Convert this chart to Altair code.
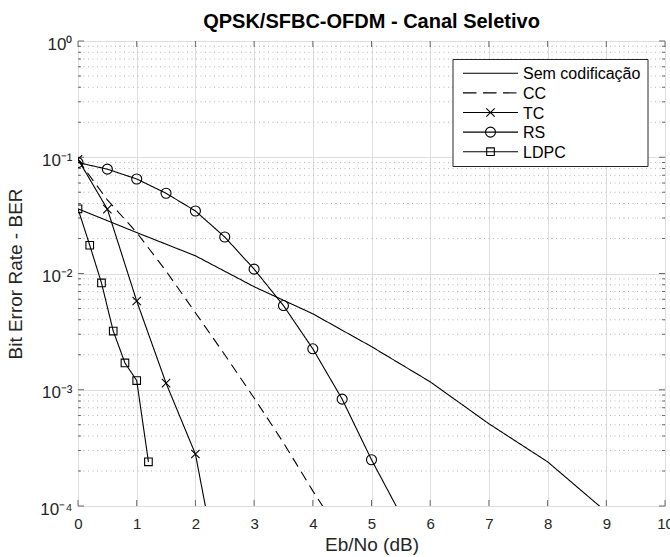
import altair as alt
import pandas as pd

# Eb/No (dB) and simulated BER for each scheme
snr_uncoded = [0, 1, 2, 3, 4, 5, 6, 7, 8, 9]
ber_uncoded = [3.6e-2, 2.25e-2, 1.42e-2, 7.7e-3, 4.5e-3, 2.35e-3, 1.17e-3, 5.1e-4, 2.4e-4, 8.9e-5]

snr_cc = [0, 0.5, 1, 1.5, 2, 2.5, 3, 3.5, 4, 4.5]
ber_cc = [9.5e-2, 4.3e-2, 2.25e-2, 1.05e-2, 4.6e-3, 2.0e-3, 8.5e-4, 3.5e-4, 1.35e-4, 5.5e-5]

snr_tc = [0, 0.5, 1, 1.5, 2, 2.5]
ber_tc = [9.6e-2, 3.58e-2, 5.8e-3, 1.14e-3, 2.8e-4, 1.35e-5]

snr_rs = [0, 0.5, 1, 1.5, 2, 2.5, 3, 3.5, 4, 4.5, 5, 5.5]
ber_rs = [9.0e-2, 7.9e-2, 6.5e-2, 4.9e-2, 3.45e-2, 2.06e-2, 1.09e-2, 5.3e-3, 2.25e-3, 8.3e-4, 2.5e-4, 8.4e-5]

snr_ldpc = [0, 0.2, 0.4, 0.6, 0.8, 1.0, 1.2]
ber_ldpc = [3.6e-2, 1.75e-2, 8.3e-3, 3.2e-3, 1.7e-3, 1.2e-3, 2.4e-4]

series_names = ["Sem codificação", "CC", "TC", "RS", "LDPC"]
title_text = "QPSK/SFBC-OFDM - Canal Seletivo"

# axis ticks
x_ticks = list(range(11))
y_major = [1e-4, 1e-3, 1e-2, 1e-1, 1.0]
y_minor = [m * 10.0 ** e for e in range(-4, 0) for m in range(2, 10)]

rows = []
for name, xs, ys in [
    ("Sem codificação", snr_uncoded, ber_uncoded),
    ("CC", snr_cc, ber_cc),
    ("TC", snr_tc, ber_tc),
    ("RS", snr_rs, ber_rs),
    ("LDPC", snr_ldpc, ber_ldpc),
]:
    for xv, yv in zip(xs, ys):
        rows.append({"series": name, "ebno": xv, "ber": yv})
df = pd.DataFrame(rows)

W, H = 587, 465
FONT = "Liberation Sans"
INK = "#262626"
BOX = "#6a6a6a"

x_scale = alt.Scale(domain=[0, 10], nice=False, zero=False)
y_scale = alt.Scale(type="log", domain=[1e-4, 1], nice=False)

x_axis = alt.Axis(
    values=x_ticks, tickSize=0, domain=False, grid=True, gridColor="#dedede",
    gridWidth=1, labelFont=FONT, labelFontSize=15, labelColor=INK, labelPadding=10,
    labelFlush=False, labelOverlap=False, title="Eb/No (dB)", titleFont=FONT,
    titleFontSize=19, titleFontWeight="normal", titleColor=INK, titleY=44,
    titleBaseline="alphabetic",
)
y_label_expr = (
    "datum.value >= 0.5 ? '10⁰' : datum.value >= 0.05 ? '10⁻¹' : "
    "datum.value >= 0.005 ? '10⁻²' : datum.value >= 0.0005 ? '10⁻³' : '10⁻⁴'"
)
y_axis = alt.Axis(
    values=y_major, labelExpr=y_label_expr, tickSize=0, domain=False, grid=True,
    gridColor="#dedede", gridWidth=1, labelFont=FONT, labelFontSize=17,
    labelColor=INK, labelPadding=6, labelOffset=3, title="Bit Error Rate - BER",
    titleFont=FONT, titleFontSize=19, titleFontWeight="normal", titleColor=INK,
    titleX=-57, titleY=H / 2, titleBaseline="alphabetic", titleAlign="center",
    titleAngle=270,
)


def X(field):
    return alt.X(field, type="quantitative", scale=x_scale, axis=x_axis)


def Y(field):
    return alt.Y(field, type="quantitative", scale=y_scale, axis=y_axis)


minor_df = pd.DataFrame({"v": y_minor})
major_df = pd.DataFrame({"v": y_major})
xt_df = pd.DataFrame({"v": x_ticks})

# dotted minor grid on the log axis
minor_grid = alt.Chart(minor_df).mark_rule(
    stroke="#b4b4b4", strokeWidth=1, strokeDash=[1, 3.5]
).encode(y=Y("v"))

# curves
dash_styles = [[1, 0], [10, 6], [1, 0], [1, 0], [1, 0]]
lines = alt.Chart(df).mark_line(clip=True, color="black", strokeWidth=1.1).encode(
    x=X("ebno"),
    y=Y("ber"),
    detail="series:N",
    strokeDash=alt.StrokeDash(
        "series:N",
        scale=alt.Scale(domain=series_names, range=dash_styles),
        legend=None,
    ),
)

x_marker = "M-1,-1L1,1M-1,1L1,-1"
marker_style = {
    "TC": (x_marker, 70),
    "RS": ("circle", 100),
    "LDPC": ("square", 58),
}
marker_layers = []
for name, (shape, size) in marker_style.items():
    marker_layers.append(
        alt.Chart(df).transform_filter(alt.datum.series == name).mark_point(
            shape=shape, size=size, color="black", strokeWidth=1.1,
            filled=False, opacity=1, clip=True,
        ).encode(x=X("ebno"), y=Y("ber"))
    )

# inward tick marks on all four sides
xt_bottom = alt.Chart(xt_df).mark_rule(color=BOX).encode(
    x=X("v"), y=alt.value(H), y2=alt.value(H - 6))
xt_top = alt.Chart(xt_df).mark_rule(color=BOX).encode(
    x=X("v"), y=alt.value(0), y2=alt.value(6))
yt_left = alt.Chart(major_df).mark_rule(color=BOX).encode(
    y=Y("v"), x=alt.value(0), x2=alt.value(6))
yt_right = alt.Chart(major_df).mark_rule(color=BOX).encode(
    y=Y("v"), x=alt.value(W), x2=alt.value(W - 6))
ym_left = alt.Chart(minor_df).mark_rule(color=BOX).encode(
    y=Y("v"), x=alt.value(0), x2=alt.value(3))
ym_right = alt.Chart(minor_df).mark_rule(color=BOX).encode(
    y=Y("v"), x=alt.value(W), x2=alt.value(W - 3))

# legend box in the upper-right corner
LX0, LX1, LY0, LY1 = 375, 570, 18.5, 125.5
ROW0, ROW_STEP = 32.3, 19.6
SX0, SX1, SMID, TX = 385, 440, 412.5, 445

legend_layers = [
    alt.Chart(pd.DataFrame({"k": [0]})).mark_rect(
        fill="white", stroke=INK, strokeWidth=1
    ).encode(x=alt.value(LX0), x2=alt.value(LX1), y=alt.value(LY0), y2=alt.value(LY1))
]
legend_dash = {"CC": [13.5, 6.5]}
for i, name in enumerate(series_names):
    cy = ROW0 + i * ROW_STEP
    one = pd.DataFrame({"label": [name]})
    rule_kw = {"color": "black", "strokeWidth": 1.1}
    if name in legend_dash:
        rule_kw["strokeDash"] = legend_dash[name]
    legend_layers.append(
        alt.Chart(one).mark_rule(**rule_kw).encode(
            x=alt.value(SX0), x2=alt.value(SX1), y=alt.value(cy))
    )
    if name in marker_style:
        shape, size = marker_style[name]
        legend_layers.append(
            alt.Chart(one).mark_point(
                shape=shape, size=size, color="black", strokeWidth=1.1,
                filled=False, opacity=1,
            ).encode(x=alt.value(SMID), y=alt.value(cy))
        )
    legend_layers.append(
        alt.Chart(one).mark_text(
            align="left", baseline="middle", font=FONT, fontSize=16, color="black"
        ).encode(x=alt.value(TX), y=alt.value(cy + 1), text="label:N")
    )

# chart title above the plot frame
title_layer = alt.Chart(pd.DataFrame({"t": [title_text]})).mark_text(
    align="center", baseline="alphabetic", font=FONT, fontSize=20,
    fontWeight="bold", color="black",
).encode(x=alt.value(W / 2), y=alt.value(-13), text="t:N")

chart = alt.layer(
    minor_grid, xt_bottom, xt_top, yt_left, yt_right, ym_left, ym_right,
    lines, *marker_layers, *legend_layers, title_layer,
).properties(
    width=W,
    height=H,
    autosize=alt.AutoSizeParams(type="none"),
    padding={"left": 78, "top": 41, "right": 5, "bottom": 51},
).configure_view(
    stroke=BOX, strokeWidth=1.2
).configure(background="white")

chart.save("out.html", embed_options={"renderer": "svg", "actions": False})
